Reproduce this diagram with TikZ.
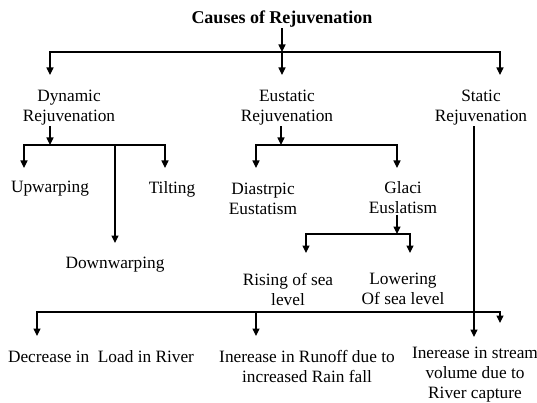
\documentclass[tikz,border=0pt]{standalone}
\usepackage{fontspec}
\setmainfont{Liberation Serif}
\usepackage{tikz}
\usetikzlibrary{arrows.meta,positioning}

\begin{document}
\begin{tikzpicture}[
    x=1pt, y=-1pt,
    lbl/.style={align=center, inner sep=0pt, font=\fontsize{17.3}{20}\selectfont},
    ttl/.style={inner sep=0pt, font=\fontsize{18}{21}\selectfont\bfseries},
    every path/.style={line width=1.1pt},
    >={Triangle[width=7pt,length=7.5pt]}
]
    \useasboundingbox (0,0) rectangle (537,403);

    % Title
    \node[ttl] (title) at (282,19.5) {Causes of Rejuvenation};

    % First level
    \node[lbl] (dyn) at (69,108) {Dynamic\\Rejuvenation};
    \node[lbl] (eus) at (287,108) {Eustatic\\Rejuvenation};
    \node[lbl] (sta) at (481,108) {Static\\Rejuvenation};

    % Dynamic
    \node[lbl] (up) at (50,189) {Upwarping};
    \node[lbl] (tilt) at (172,189) {Tilting};
    \node[lbl] (down) at (115,265) {Downwarping};

    % Eustatic
    \node[lbl] (dia) at (263,199) {Diastrpic\\Eustatism};
    \node[lbl] (gla) at (403,198) {Glaci\\Euslatism};
    \node[lbl] (rise) at (288,289) {Rising of sea\\level};
    \node[lbl] (low) at (403,289) {Lowering\\Of sea level};

    % Bottom row
    \node[lbl] (dec) at (101,357) {Decrease in\ \ Load in River};
    \node[lbl] (inc) at (307,366) {Inerease in Runoff due to\\increased Rain fall};
    \node[lbl] (vol) at (475,375) {Inerease in stream\\volume due to\\River capture};

    % junctions and arrow ends
    \coordinate (t1) at (282,52);
    \coordinate (dynin) at (50,75);
    \coordinate (eusin) at (282,75);
    \coordinate (stain) at (500,75);
    \coordinate (d1) at (50,145);
    \coordinate (d2) at (115,145);
    \coordinate (upin) at (24,168);
    \coordinate (tiltin) at (165,168);
    \coordinate (downin) at (115,243);
    \coordinate (e1) at (281,145);
    \coordinate (diain) at (256,168);
    \coordinate (glain) at (397,168);
    \coordinate (g1) at (397,234);
    \coordinate (risein) at (306,253);
    \coordinate (lowin) at (410,253);
    \coordinate (volin) at (474,337);
    \coordinate (b1) at (256,312);
    \coordinate (decin) at (37,336);
    \coordinate (incin) at (256,336);
    \coordinate (barend) at (500,323);

    \draw[->] (title) -- (t1);
    \draw[->] (t1) -| (dynin);
    \draw[->] (t1) -- (eusin);
    \draw[->] (t1) -| (stain);

    \draw[->] (dyn.south -| d1) -- (d1);
    \draw[->] (d1) -| (upin);
    \draw[->] (d1) -| (tiltin);
    \draw[->] (d2) -- (downin);

    \draw[->] (eus.south -| e1) -- (e1);
    \draw[->] (e1) -| (diain);
    \draw[->] (e1) -| (glain);

    \draw[->] (gla.south -| g1) -- (g1);
    \draw[->] (g1) -| (risein);
    \draw[->] (g1) -| (lowin);

    \draw[->] (sta.south -| volin) -- (volin);

    \draw[->] (b1) -| (decin);
    \draw[->] (b1) -- (incin);
    \draw[->] (b1) -| (barend);
\end{tikzpicture}
\end{document}
